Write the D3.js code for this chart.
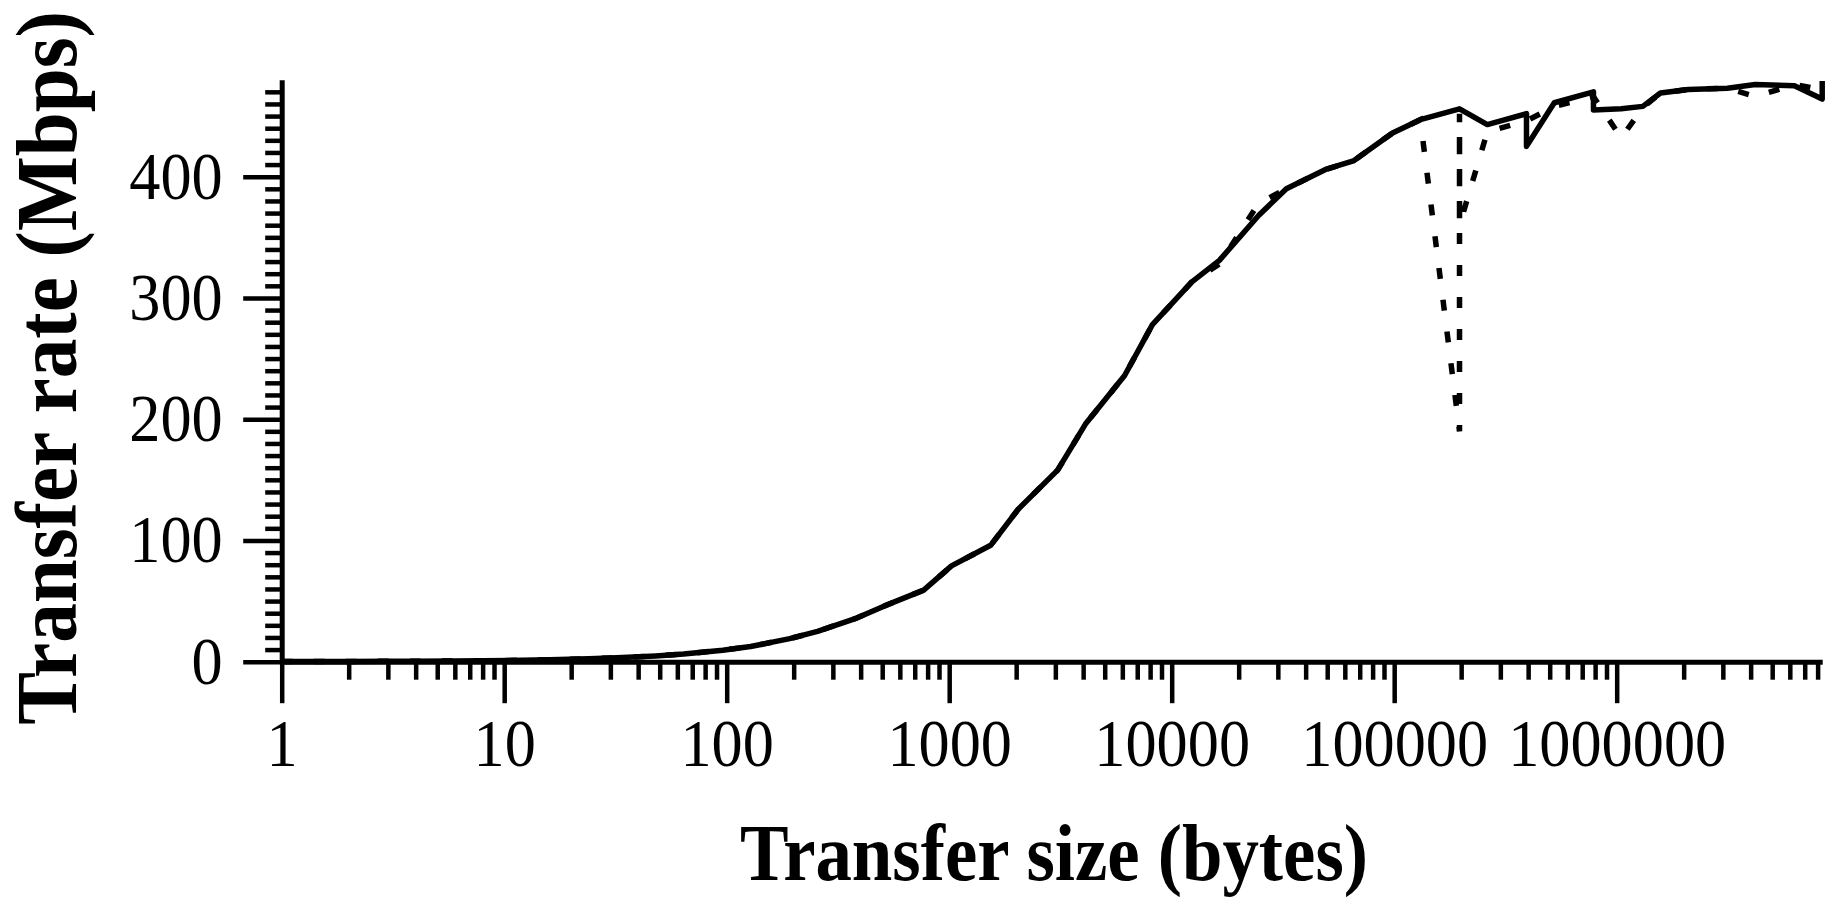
<!DOCTYPE html>
<html>
<head>
<meta charset="utf-8">
<script src="https://cdn.jsdelivr.net/npm/d3@7"></script>
<style>
  body { margin: 0; background: #fff; }
  svg { display: block; }
</style>
</head>
<body>
<div id="chart"></div>
<script>
// transfer size in bytes, solid series
var solidSize = [1, 2, 3, 4, 6, 8, 12, 16, 24, 32, 48, 64, 96, 128, 192, 256, 384, 512, 768,
    1024, 1536, 2048, 3072, 4096, 6144, 8192, 12288, 16384, 24576, 32768, 49152, 65536,
    98304, 131072, 196608, 262144, 393216, 393216, 524288, 786432, 786432, 1048576,
    1310720, 1572864, 2097152, 3145728, 4194304, 6291456, 8388608, 8388608];
// transfer rate in Mbps, solid series
var solidRate = [0.1, 0.2, 0.3, 0.4, 0.6, 0.8, 1.2, 1.6, 2.4, 3.2, 4.8, 6.3, 9.5, 12.5, 19, 25, 36, 46, 59,
    79, 96, 126, 158, 196, 236, 278, 313, 331, 368, 390, 406, 413,
    436, 447, 456, 443, 452, 425, 461, 470, 455, 456,
    458, 469, 472, 473, 476, 475, 464, 479];

// dashed series
var dashSize = [1, 2, 3, 4, 6, 8, 12, 16, 24, 32, 48, 64, 96, 128, 192, 256, 384, 512, 768,
    1024, 1536, 2048, 3072, 4096, 6144, 8192, 12288, 16384, 24576, 32768, 49152, 65536,
    98304, 131072, 196608, 196608, 196608, 262144, 393216, 524288, 786432, 1048576,
    1310720, 1572864, 2097152, 3145728, 4194304, 6291456, 8388608];
var dashRate = [0.1, 0.2, 0.3, 0.4, 0.6, 0.8, 1.2, 1.6, 2.4, 3.2, 4.8, 6.3, 9.5, 12.5, 19, 25, 36, 46, 59,
    79, 96, 126, 158, 196, 236, 278, 313, 328, 378, 390, 406, 413,
    436, 447, 190, 452, 360, 437, 446, 458, 466, 432,
    457, 469, 472, 473, 466, 476, 472];

var xMajor = [1, 10, 100, 1000, 10000, 100000, 1000000];
var xLabels = ["1", "10", "100", "1000", "10000", "100000", "1000000"];
var yMajor = [0, 100, 200, 300, 400];
var xMax = 8388608;
var yMax = 480;

var svg, x, y;

function drawChart() {
    var W = 1836, H = 897;
    var left = 281.7, right = 1822.2, bottom = 661.7, top = 79.7;

    svg = d3.select("#chart")
        .append("svg")
        .attr("width", W)
        .attr("height", H);

    x = d3.scaleLog().domain([1, xMax]).range([left, right]);
    y = d3.scaleLinear().domain([0, yMax]).range([bottom, top]);

    // minor ticks
    var xMinor = [];
    xMajor.forEach(function(d) {
        for (var k = 2; k <= 9; k++) {
            if (d * k <= xMax) xMinor.push(d * k);
        }
    });
    var yMinor = d3.range(10, yMax, 10).filter(function(v) { return v % 100 != 0; });

    var xMinorAxis = svg.append("g")
        .attr("transform", "translate(0," + bottom + ")")
        .call(d3.axisBottom(x).tickValues(xMinor).tickSize(18).tickFormat(""));
    xMinorAxis.select(".domain").remove();

    var yMinorAxis = svg.append("g")
        .attr("transform", "translate(" + left + ",0)")
        .call(d3.axisLeft(y).tickValues(yMinor).tickSize(16.5).tickFormat(""));
    yMinorAxis.select(".domain").remove();

    var xAxis = svg.append("g")
        .attr("transform", "translate(0," + bottom + ")")
        .call(d3.axisBottom(x).tickValues(xMajor).tickSize(41.5).tickSizeOuter(0)
            .tickPadding(15).tickFormat(function(d, i) { return xLabels[i]; }));

    var yAxis = svg.append("g")
        .attr("transform", "translate(" + left + ",0)")
        .call(d3.axisLeft(y).tickValues(yMajor).tickSize(38.5).tickSizeOuter(0));

    svg.selectAll(".tick line").attr("stroke", "#000").attr("stroke-width", 4.5);
    svg.selectAll(".domain").attr("stroke", "#000").attr("stroke-width", 5);

    xAxis.selectAll("text")
        .attr("font-family", "'Liberation Serif', 'Times New Roman', serif")
        .attr("font-size", 67)
        .attr("fill", "#000")
        .attr("transform", "scale(0.93,1)");

    yAxis.selectAll("text")
        .attr("font-family", "'Liberation Serif', 'Times New Roman', serif")
        .attr("font-size", 67)
        .attr("fill", "#000")
        .attr("x", -59 / 0.93)
        .attr("transform", "scale(0.93,1)");

    // series
    var line = d3.line()
        .x(function(d) { return x(d[0]); })
        .y(function(d) { return y(d[1]); });

    var dashData = d3.zip(dashSize, dashRate);
    var solidData = d3.zip(solidSize, solidRate);

    svg.append("path")
        .datum(dashData)
        .attr("fill", "none")
        .attr("stroke", "#000")
        .attr("stroke-width", 5.5)
        .attr("stroke-dasharray", "11,21")
        .attr("d", line);

    svg.append("path")
        .datum(solidData)
        .attr("fill", "none")
        .attr("stroke", "#000")
        .attr("stroke-width", 5.5)
        .attr("stroke-linejoin", "round")
        .attr("d", line);

    // axis titles
    svg.append("text")
        .attr("transform", "translate(1054,880) scale(0.91,1)")
        .attr("text-anchor", "middle")
        .attr("font-family", "'Liberation Serif', 'Times New Roman', serif")
        .attr("font-weight", "bold")
        .attr("font-size", 80)
        .text("Transfer size (bytes)");

    svg.append("text")
        .attr("transform", "translate(76,368) rotate(-90) scale(0.91,1)")
        .attr("text-anchor", "middle")
        .attr("font-family", "'Liberation Serif', 'Times New Roman', serif")
        .attr("font-weight", "bold")
        .attr("font-size", 87)
        .text("Transfer rate (Mbps)");
}

function init() {
    drawChart();
}

window.onload = init;
</script>
</body>
</html>
